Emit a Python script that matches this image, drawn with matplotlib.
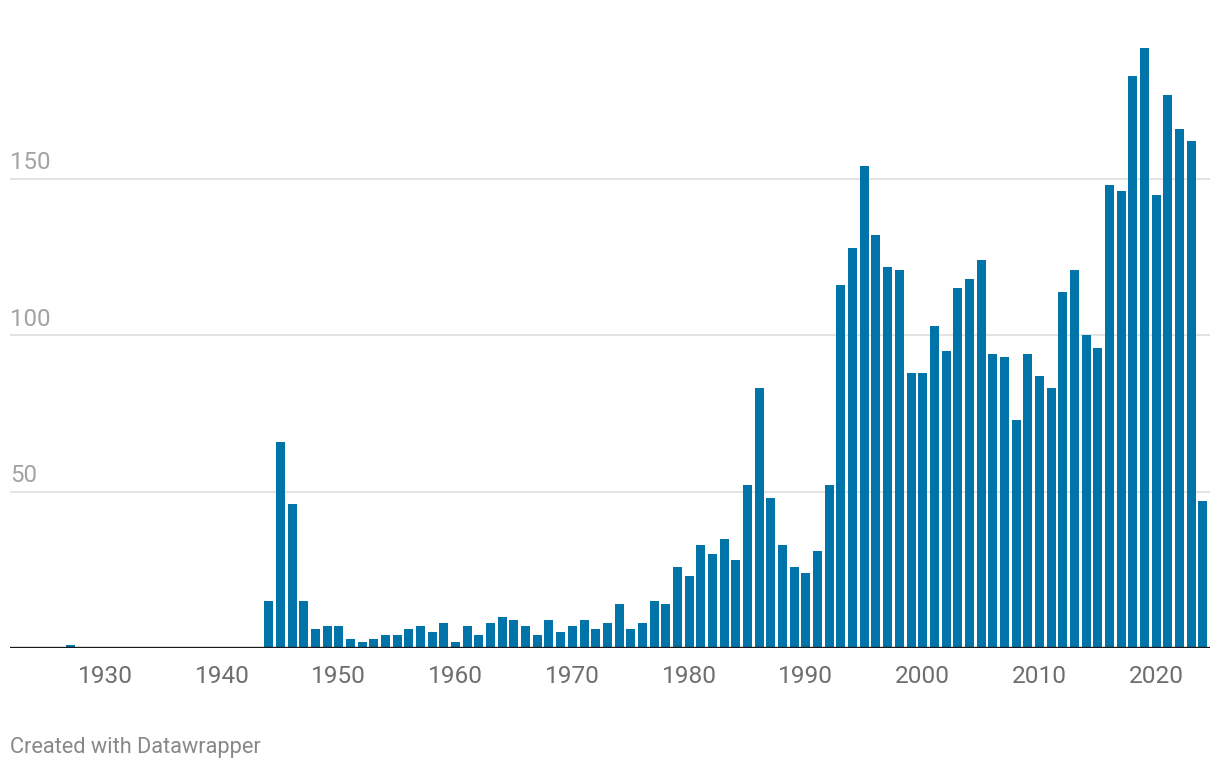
import matplotlib
matplotlib.use("Agg")
import matplotlib.pyplot as plt

years = [1927] + list(range(1944, 2025))
values = [1,
          15, 66, 46, 15, 6, 7, 7, 3, 2, 3, 4, 4, 6, 7, 5, 8,        # 1944-1959
          2, 7, 4, 8, 10, 9, 7, 4, 9, 5,                            # 1960-1969
          7, 9, 6, 8, 14, 6, 8, 15, 14, 26,                         # 1970-1979
          23, 33, 30, 35, 28, 52, 83, 48, 33, 26,                   # 1980-1989
          24, 31, 52, 116, 128, 154, 132, 122, 121, 88,             # 1990-1999
          88, 103, 95, 115, 118, 124, 94, 93, 73, 94,               # 2000-2009
          87, 83, 114, 121, 100, 96, 148, 146, 183, 192,            # 2010-2019
          145, 177, 166, 162, 47]                                   # 2020-2024
xticks = [1930, 1940, 1950, 1960, 1970, 1980, 1990, 2000, 2010, 2020]
yticks = [50, 100, 150]

plt.rcParams['font.family'] = ['Roboto', 'DejaVu Sans']

fig = plt.figure(figsize=(12.2, 7.7), dpi=100)
W, H = 1220, 770
y0 = 648
left, right = 10, 1210
ax = fig.add_axes([left / W, (H - y0) / H, (right - left) / W, (y0 - 22.6) / H])

ax.bar(years, values, width=0.77, color="#0074a9", zorder=3)
ax.set_xlim(1921.85, 2024.6)
ax.set_ylim(0, 200)

for v in yticks:
    ax.axhline(v, color="#e3e3e3", lw=1.4, zorder=1)
    ax.text(0, v + 1.5, str(v), transform=ax.get_yaxis_transform(),
            ha="left", va="bottom", fontsize=17.3, color="#a3a3a3")
ax.axhline(0, color="#1a1a1a", lw=2.4, zorder=4)

ax.set_xticks(xticks)
ax.set_xticklabels([str(t) for t in xticks], fontsize=17.6, color="#6e6e6e")
ax.tick_params(axis="x", length=0, pad=12)
ax.set_yticks([])
for s in ax.spines.values():
    s.set_visible(False)

fig.text(10 / W, 1 - 747 / H, "Created with Datawrapper", ha="left", va="center",
         fontsize=15.7, color="#888888")

fig.savefig("out.png", dpi=100)
